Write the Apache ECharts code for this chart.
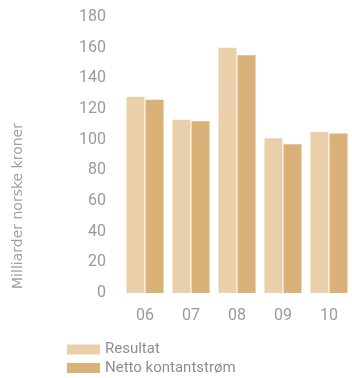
<!DOCTYPE html>
<html>
<head>
<meta charset="utf-8">
<script src="https://cdn.jsdelivr.net/npm/echarts@6/dist/echarts.min.js"></script>
<style>
  html, body { margin: 0; padding: 0; background: #ffffff; }
  #chart { width: 352px; height: 378px; }
</style>
</head>
<body>
<div id="chart"></div>
<script>
// Years (two-digit labels)
const years = ['06', '07', '08', '09', '10'];
// Result and net cash flow, billions NOK
const resultat = [128, 113, 160, 101, 105];
const nettoKontantstrom = [126, 112, 155, 97, 104];
// Value axis
const yMin = 0;
const yMax = 180;
const yStep = 20;

const textColor = '#9a9a9a';
const fontFamily = 'Roboto, "DejaVu Sans", sans-serif';

const chart = echarts.init(document.getElementById('chart'), null, { renderer: 'canvas' });

chart.setOption({
  animation: false,
  backgroundColor: '#ffffff',
  grid: { left: 122, right: -6, top: 17, bottom: 85, containLabel: false },
  legend: {
    orient: 'vertical',
    left: 67,
    top: 342,
    padding: 0,
    itemWidth: 33,
    itemHeight: 10,
    itemGap: 3.5,
    icon: 'rect',
    textStyle: { color: '#8f8f8f', fontSize: 15, lineHeight: 15, fontFamily: fontFamily },
    data: ['Resultat', 'Netto kontantstrøm']
  },
  xAxis: {
    type: 'category',
    data: years,
    axisLine: { show: false },
    axisTick: { show: false },
    axisLabel: { color: textColor, fontSize: 16, fontFamily: fontFamily, margin: 15 }
  },
  yAxis: {
    type: 'value',
    min: yMin,
    max: yMax,
    interval: yStep,
    splitLine: { show: false },
    axisLine: { show: false },
    axisTick: { show: false },
    axisLabel: { color: textColor, fontSize: 16, fontFamily: fontFamily, margin: 16 }
  },
  graphic: [{
    type: 'text',
    x: 18,
    y: 206,
    rotation: Math.PI / 2,
    style: {
      text: 'Milliarder norske kroner',
      fill: '#a0a0a0',
      fontSize: 14,
      fontFamily: '"DejaVu Sans", sans-serif',
      align: 'center',
      verticalAlign: 'middle'
    }
  }],
  series: [
    {
      name: 'Resultat',
      type: 'bar',
      data: resultat,
      barWidth: 18,
      barGap: '6%',
      itemStyle: { color: '#e9cfaa' }
    },
    {
      name: 'Netto kontantstrøm',
      type: 'bar',
      data: nettoKontantstrom,
      barWidth: 18,
      itemStyle: { color: '#dab178' }
    }
  ]
});
</script>
</body>
</html>
